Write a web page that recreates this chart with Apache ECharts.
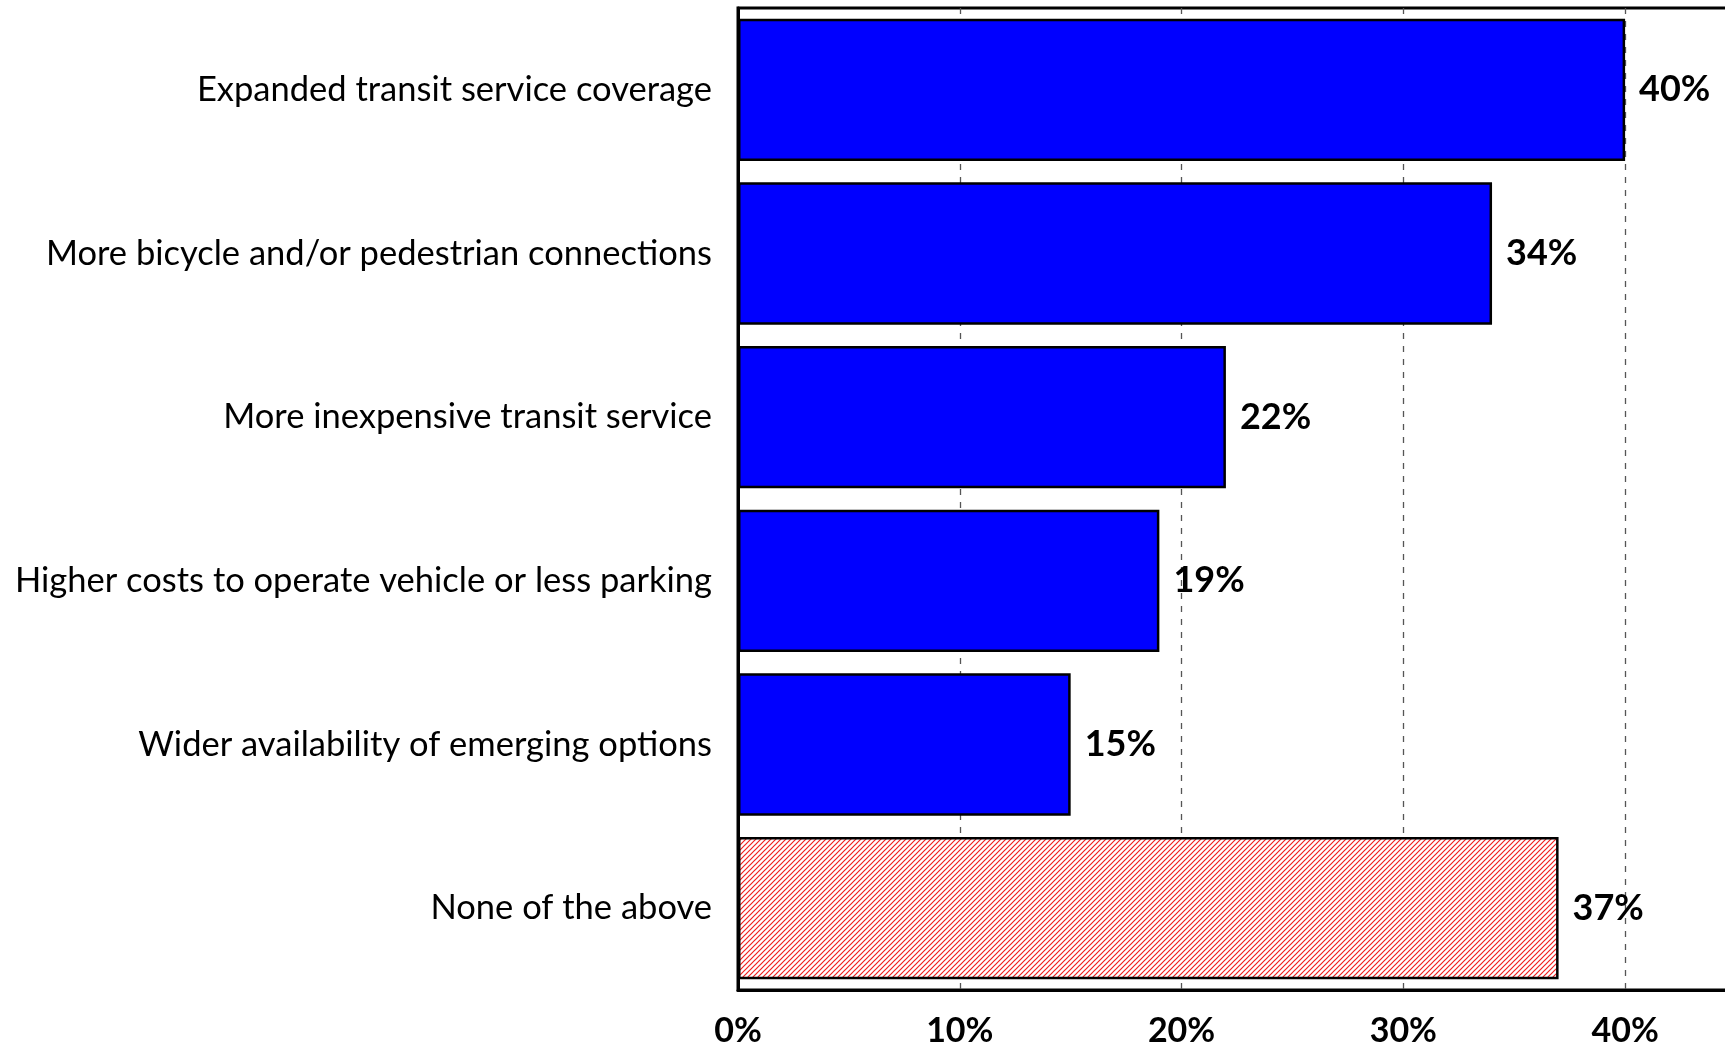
<!DOCTYPE html>
<html>
<head>
<meta charset="utf-8">
<script src="https://cdn.jsdelivr.net/npm/echarts@6/dist/echarts.min.js"></script>
<style>
  html, body { margin: 0; padding: 0; background: #fff; }
  #chart { width: 1725px; height: 1042px; }
</style>
</head>
<body>
<div id="chart"></div>
<script>
// Survey responses: share of respondents choosing each option
const categories = [
  'Expanded transit service coverage',
  'More bicycle and/or pedestrian connections',
  'More inexpensive transit service',
  'Higher costs to operate vehicle or less parking',
  'Wider availability of emerging options',
  'None of the above'
];
const shares = [40, 34, 22, 19, 15, 37];
const xTicks = [0, 10, 20, 30, 40];
const hatchedCategory = 'None of the above';

// Diagonal red hatch tile for the "none" bar
function makeHatch() {
  const s = 5;
  const c = document.createElement('canvas');
  c.width = s; c.height = s;
  const g = c.getContext('2d');
  g.fillStyle = '#ffffff';
  g.fillRect(0, 0, s, s);
  g.strokeStyle = '#f02020';
  g.lineWidth = 1.2;
  g.beginPath();
  g.moveTo(0, s); g.lineTo(s, 0);
  g.moveTo(-1, 1); g.lineTo(1, -1);
  g.moveTo(s - 1, s + 1); g.lineTo(s + 1, s - 1);
  g.stroke();
  return c;
}
const hatch = makeHatch();

const chart = echarts.init(document.getElementById('chart'), null, { renderer: 'canvas' });
const font = 'Lato, "Noto Sans", sans-serif';

chart.setOption({
  animation: false,
  backgroundColor: '#ffffff',
  grid: {
    left: 738,
    top: 8,
    width: 998,
    height: 982,
    show: true,
    borderColor: '#000',
    borderWidth: 3,
    containLabel: false,
    outerBoundsMode: 'none'
  },
  xAxis: {
    type: 'value',
    min: 0,
    max: 45,
    interval: 10,
    axisLine: { show: true, lineStyle: { color: '#000', width: 3 } },
    axisTick: { show: false },
    splitLine: {
      show: true,
      lineStyle: { color: '#555', width: 1.3, type: [6, 7] }
    },
    axisLabel: {
      margin: 24,
      fontFamily: font,
      fontSize: 34,
      fontWeight: 'bold',
      color: '#000',
      formatter: v => (xTicks.indexOf(v) >= 0 ? v + '%' : '')
    }
  },
  yAxis: {
    type: 'category',
    inverse: true,
    data: categories,
    axisLine: { show: true, lineStyle: { color: '#000', width: 3 } },
    axisTick: { show: false },
    axisLabel: {
      margin: 26,
      fontFamily: font,
      fontSize: 34.5,
      color: '#000'
    }
  },
  series: [{
    type: 'bar',
    barCategoryGap: '13%',
    data: shares.map((v, i) => ({
      value: v,
      itemStyle: categories[i] === hatchedCategory
        ? { color: { image: hatch, repeat: 'repeat' } }
        : {}
    })),
    itemStyle: {
      color: '#0000ff',
      borderColor: '#000',
      borderWidth: 2.5
    },
    label: {
      show: true,
      position: 'right',
      distance: 14,
      fontFamily: font,
      fontSize: 36,
      fontWeight: 'bold',
      color: '#000',
      formatter: p => p.value + '%'
    }
  }]
});
</script>
</body>
</html>
